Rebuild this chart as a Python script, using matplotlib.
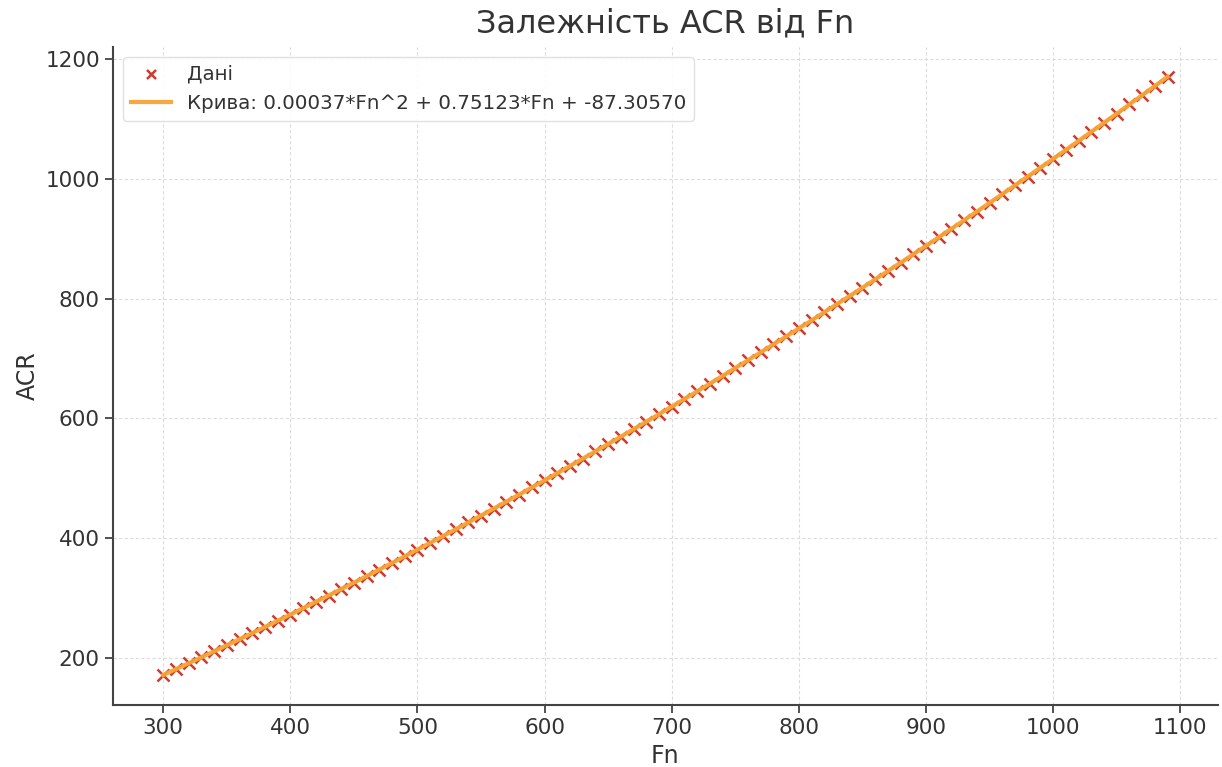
import numpy as np
import matplotlib
matplotlib.use("Agg")
import matplotlib.pyplot as plt

fn = list(range(300, 1100, 10))
acr = [171.4, 181.1, 191.0, 200.9, 210.9, 221.0, 231.1, 241.3, 251.6, 262.0,
       272.4, 282.9, 293.5, 304.1, 314.9, 325.7, 336.6, 347.5, 358.5, 369.6,
       380.8, 392.1, 403.4, 414.8, 426.3, 437.8, 449.4, 461.1, 472.9, 484.7,
       496.6, 508.6, 520.7, 532.8, 545.0, 557.3, 569.7, 582.1, 594.6, 607.2,
       619.9, 632.6, 645.4, 658.3, 671.2, 684.2, 697.3, 710.5, 723.8, 737.1,
       750.5, 764.0, 777.5, 791.1, 804.8, 818.6, 832.4, 846.3, 860.3, 874.4,
       888.5, 902.7, 917.0, 931.4, 945.8, 960.3, 974.9, 989.5, 1004.3, 1019.1,
       1033.9, 1048.9, 1063.9, 1079.0, 1094.2, 1109.4, 1124.7, 1140.1, 1155.6, 1171.1]
curve_label = "Крива: 0.00037*Fn^2 + 0.75123*Fn + -87.30570"

fn = np.array(fn, dtype=float)
acr = np.array(acr)
coef = np.polyfit(fn, acr, 2)
fit = np.polyval(coef, fn)

plt.rcParams['font.family'] = ['DejaVu Sans']
txt = '#333333'

fig = plt.figure(figsize=(12.22, 7.67), dpi=100)
ax = fig.add_axes([0.0925, 0.081, 0.904, 0.858])

ax.scatter(fn, acr, marker='x', color='#d03a30', s=75, linewidths=1.8, label='Дані', zorder=3)
ax.plot(fn, fit, color='#f7a534', linewidth=3, alpha=0.95, label=curve_label, zorder=4)

ax.set_title('Залежність ACR від Fn', fontsize=23, color=txt, pad=10)
ax.set_xlabel('Fn', fontsize=17, color=txt)
ax.set_ylabel('ACR', fontsize=17, color=txt)
ax.tick_params(labelsize=15.5, colors=txt, length=6, width=1.2)
ax.grid(True, color='#dcdcdc', linestyle=(0, (3, 2)), linewidth=0.8)
ax.set_axisbelow(True)
for s in ['top', 'right']:
    ax.spines[s].set_visible(False)
for s in ['left', 'bottom']:
    ax.spines[s].set_color('#444444')
    ax.spines[s].set_linewidth(1.5)

leg = ax.legend(loc='upper left', fontsize=14.3, frameon=True, framealpha=0.9, markerscale=0.75)
leg.get_frame().set_edgecolor('#dddddd')
for t in leg.get_texts():
    t.set_color(txt)

fig.savefig('out.png', dpi=100)
